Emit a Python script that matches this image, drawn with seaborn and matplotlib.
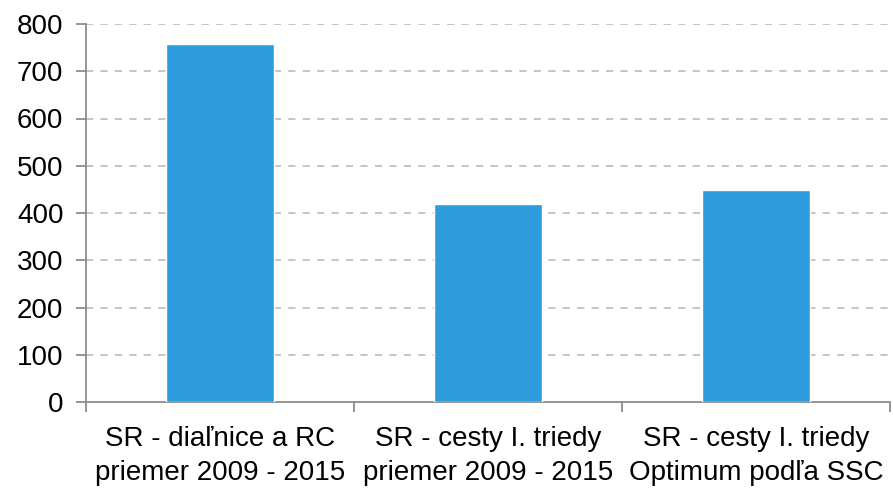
import matplotlib
matplotlib.use("Agg")
import matplotlib.pyplot as plt
import seaborn as sns
import pandas as pd

categories = [
    "SR - diaľnice a RC\npriemer 2009 - 2015",
    "SR - cesty I. triedy\npriemer 2009 - 2015",
    "SR - cesty I. triedy\nOptimum podľa SSC",
]
values = [757, 418, 448]
y_ticks = [0, 100, 200, 300, 400, 500, 600, 700, 800]

sns.set_theme(style="white")
plt.rcParams["font.family"] = ["Liberation Sans Narrow", "Liberation Sans", "DejaVu Sans"]
plt.rcParams["text.color"] = "black"
plt.rcParams["xtick.color"] = "black"
plt.rcParams["ytick.color"] = "black"

df = pd.DataFrame({"cat": categories, "val": values})

fig = plt.figure(figsize=(8.93, 4.93), dpi=100)
ax = fig.add_axes([86 / 893, 1 - 402 / 493, (890 - 86) / 893, (402 - 24) / 493])

sns.barplot(data=df, x="cat", y="val", color="#2E9BDC", saturation=1,
            width=0.4, ax=ax, zorder=3)

ax.set_xlim(-0.5, 2.5)
ax.set_ylim(0, 800)
ax.set_yticks(y_ticks)
ax.set_yticklabels([str(t) for t in y_ticks])
ax.set_xlabel("")
ax.set_ylabel("")

for y in y_ticks[1:]:
    ax.axhline(y, color="#C0C0C0", linestyle=(0, (4, 4)), linewidth=1.3, zorder=1)

for side in ["top", "right"]:
    ax.spines[side].set_visible(False)
for side in ["left", "bottom"]:
    ax.spines[side].set_color("#8C8C8C")
    ax.spines[side].set_linewidth(1.3)

ax.tick_params(axis="y", which="major", direction="out", length=7.2, width=1.3,
               color="#8C8C8C", labelcolor="black", labelsize=20, pad=9, left=True)
ax.tick_params(axis="x", which="major", length=0, labelsize=20, pad=17,
               labelcolor="black")
ax.set_xticks([-0.5, 0.5, 1.5, 2.5], minor=True)
ax.tick_params(axis="x", which="minor", direction="out", length=7.2, width=1.3,
               color="#8C8C8C", bottom=True)
for lbl in ax.get_xticklabels():
    lbl.set_linespacing(1.42)

fig.savefig("out.png", dpi=100)
